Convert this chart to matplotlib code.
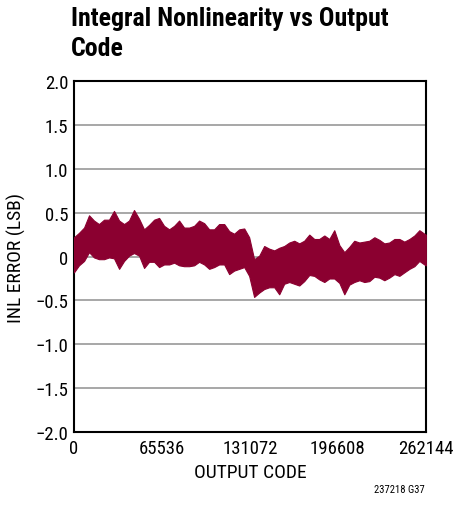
import matplotlib.pyplot as plt
from matplotlib import font_manager

codes = [0, 3700, 7500, 11200, 14900, 18600, 22400, 26100, 29800, 33600,
         37300, 41000, 44700, 48500, 52200, 55900, 59700, 63400, 67100, 70900,
         74600, 78300, 82000, 85800, 89500, 93200, 97000, 100700, 104400, 108100,
         111900, 115600, 119300, 123100, 126800, 130500, 134200, 138000, 141700, 145400,
         149200, 152900, 156600, 160400, 164100, 167800, 171500, 175300, 179000, 182700,
         186500, 190200, 193900, 197700, 201400, 205100, 208800, 212600, 216300, 220000,
         223800, 227500, 231200, 234900, 238700, 242400, 246100, 249900, 253600, 257300,
         261000, 262144]
inl_upper = [0.22, 0.27, 0.33, 0.47, 0.41, 0.37, 0.42, 0.42, 0.52, 0.41,
             0.37, 0.41, 0.53, 0.43, 0.31, 0.36, 0.42, 0.44, 0.35, 0.31,
             0.35, 0.41, 0.33, 0.33, 0.35, 0.41, 0.38, 0.31, 0.31, 0.37,
             0.37, 0.29, 0.26, 0.31, 0.32, 0.22, -0.03, 0.01, 0.12, 0.09,
             0.07, 0.10, 0.12, 0.16, 0.18, 0.15, 0.18, 0.25, 0.20, 0.20,
             0.24, 0.20, 0.30, 0.13, 0.05, 0.11, 0.18, 0.16, 0.17, 0.18,
             0.22, 0.19, 0.15, 0.16, 0.20, 0.20, 0.17, 0.20, 0.24, 0.30,
             0.26, 0.25]
inl_lower = [-0.18, -0.10, -0.05, 0.05, -0.01, -0.03, -0.03, -0.01, -0.02, -0.14,
             -0.05, 0.01, 0.04, 0.01, -0.13, -0.06, -0.06, -0.12, -0.09, -0.09,
             -0.07, -0.10, -0.11, -0.11, -0.10, -0.06, -0.09, -0.14, -0.12, -0.09,
             -0.09, -0.20, -0.16, -0.14, -0.12, -0.22, -0.46, -0.41, -0.37, -0.35,
             -0.35, -0.43, -0.31, -0.29, -0.31, -0.33, -0.28, -0.21, -0.22, -0.26,
             -0.29, -0.25, -0.25, -0.30, -0.43, -0.32, -0.29, -0.27, -0.29, -0.28,
             -0.23, -0.24, -0.27, -0.24, -0.20, -0.22, -0.18, -0.14, -0.11, -0.05,
             -0.09, -0.10]

xticks = [0, 65536, 131072, 196608, 262144]
yticks = [-2.0, -1.5, -1.0, -0.5, 0, 0.5, 1.0, 1.5, 2.0]
ytick_labels = ['\u22122.0', '\u22121.5', '\u22121.0', '\u22120.5', '0', '0.5', '1.0', '1.5', '2.0']

names = {f.name for f in font_manager.fontManager.ttflist}
fam = 'DejaVu Sans'
for cand in ['Roboto Condensed', 'Liberation Sans Narrow', 'Liberation Sans', 'Roboto']:
    if cand in names:
        fam = cand
        break
plt.rcParams['font.family'] = [fam, 'DejaVu Sans']

fig = plt.figure(figsize=(4.54, 5.06), dpi=100)
ax = fig.add_axes([0.163, 0.144, 0.775, 0.694])

ax.fill_between(codes, inl_lower, inl_upper, color='#8b0030', lw=0.8,
                edgecolor='#8b0030', zorder=3)

ax.set_xlim(0, 262144)
ax.set_ylim(-2.0, 2.0)
ax.set_xticks(xticks)
ax.set_xticklabels([str(t) for t in xticks])
ax.set_yticks(yticks)
ax.set_yticklabels(ytick_labels)
ax.tick_params(length=0, labelsize=13.5)
ax.tick_params(axis='x', pad=5)
ax.tick_params(axis='y', pad=4)
ax.yaxis.grid(True, color='#a0a0a0', lw=1.3)
ax.set_axisbelow(True)
for s in ax.spines.values():
    s.set_linewidth(1.5)

ax.set_xlabel('OUTPUT CODE', fontsize=14, labelpad=4)
ax.set_ylabel('INL ERROR (LSB)', fontsize=14, labelpad=7)

title = fig.text(71 / 454, 1 - 7 / 506, 'Integral Nonlinearity vs Output\nCode',
                 fontsize=16, fontweight='bold', va='top', ha='left', linespacing=1.3)
fig.text(0.935, 0.022, '237218 G37', fontsize=7.7, ha='right', va='bottom')

# shrink the title so its first line spans about the same width as in the reference
r = fig.canvas.get_renderer()
w = title.get_window_extent(r).width
title.set_fontsize(16 * 318 / w)

fig.savefig('out.png', dpi=100)
